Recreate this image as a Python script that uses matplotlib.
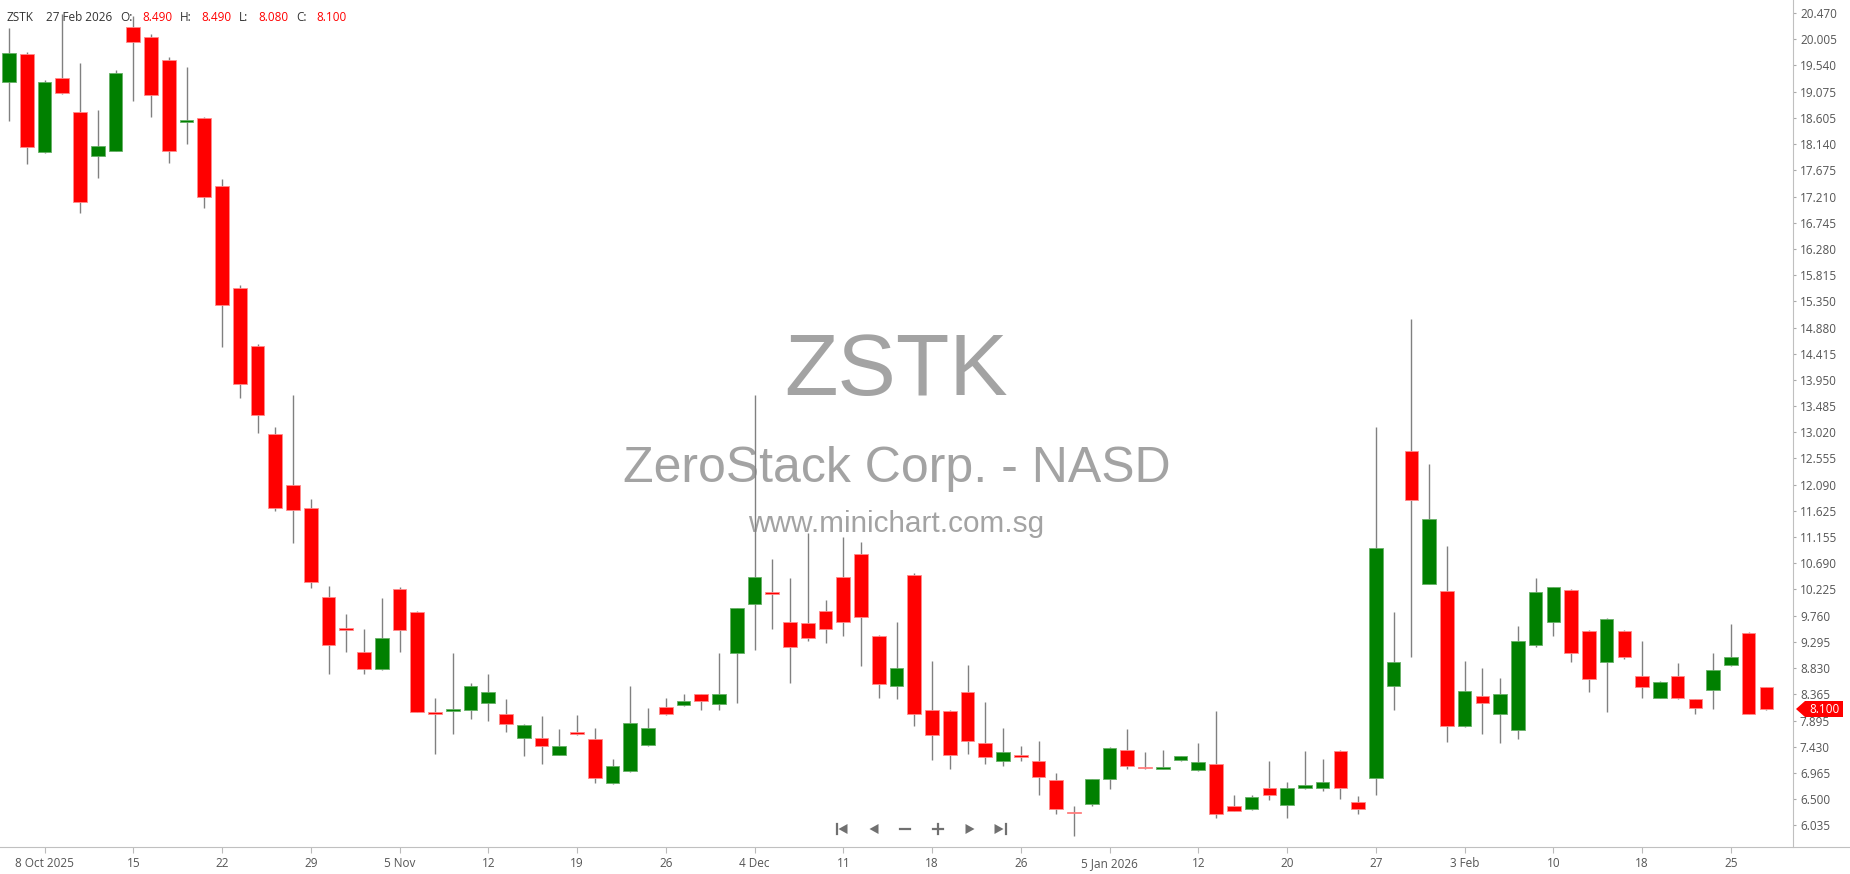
import matplotlib
matplotlib.use("Agg")
import matplotlib.pyplot as plt
import numpy as np
import pandas as pd
from matplotlib.patches import Polygon
from matplotlib.lines import Line2D

plt.rcParams['font.family'] = ['Open Sans', 'DejaVu Sans']

# ---------------- data ----------------
symbol = "ZSTK"
company = "ZeroStack Corp. - NASD"
site = "www.minichart.com.sg"
last_date_label = "27 Feb 2026"

holidays = ['2025-11-27', '2025-12-25', '2026-01-01', '2026-01-19', '2026-02-16']
dates = pd.bdate_range('2025-10-06', '2026-02-27')
dates = dates[~dates.isin(pd.to_datetime(holidays))]

opens = [19.24, 19.75, 18.00, 19.31, 18.72, 17.93, 18.02, 20.23, 20.04, 19.64,
         18.54, 18.61, 17.39, 15.59, 14.55, 12.98, 12.09, 11.67, 10.09, 9.54,
         9.11, 8.81, 10.24, 9.82, 8.04, 8.07, 8.09, 8.21, 8.02, 7.59,
         7.58, 7.29, 7.68, 7.56, 6.78, 6.99, 7.46, 8.13, 8.17, 8.36,
         8.19, 9.09, 9.96, 10.18, 9.64, 9.62, 9.85, 10.44, 10.85, 9.40,
         8.50, 10.49, 8.09, 8.07, 8.40, 7.49, 7.18, 7.27, 7.18, 6.83,
         6.27, 6.42, 6.85, 7.38, 7.07, 7.04, 7.19, 7.01, 7.12, 6.38,
         6.32, 6.69, 6.40, 6.69, 6.69, 7.36, 6.45, 6.87, 8.50, 12.69,
         10.33, 10.20, 7.79, 8.33, 8.01, 7.72, 9.23, 9.64, 10.22, 9.49,
         8.94, 9.49, 8.69, 8.30, 8.69, 8.27, 8.44, 8.88, 9.45, 8.49]
highs = [20.20, 19.77, 19.28, 20.46, 19.59, 18.75, 19.46, 20.42, 20.10, 19.69,
         19.51, 18.63, 17.53, 15.64, 14.58, 13.11, 13.69, 11.83, 10.29, 9.78,
         9.52, 10.07, 10.26, 9.84, 8.29, 9.09, 8.56, 8.72, 8.27, 7.83,
         7.98, 7.74, 8.00, 7.77, 7.21, 8.51, 8.11, 8.29, 8.36, 8.37,
         9.09, 9.90, 13.68, 10.77, 10.42, 11.22, 10.03, 11.15, 11.06, 9.41,
         9.64, 10.51, 8.95, 8.08, 8.89, 8.23, 7.77, 7.45, 7.53, 6.96,
         6.38, 6.86, 7.42, 7.74, 7.33, 7.38, 7.27, 7.49, 8.07, 6.58,
         6.58, 7.18, 6.80, 7.35, 7.21, 7.38, 6.55, 13.11, 9.82, 15.04,
         12.45, 11.00, 8.96, 8.82, 8.65, 9.58, 10.42, 10.27, 10.24, 9.50,
         9.71, 9.50, 9.31, 8.59, 8.91, 8.28, 9.09, 9.61, 9.46, 8.49]
lows = [18.56, 17.78, 17.98, 19.04, 16.91, 17.54, 18.01, 18.91, 18.62, 17.80,
        18.15, 17.00, 14.54, 13.63, 13.00, 11.62, 11.05, 10.25, 8.73, 9.12,
        8.72, 8.80, 9.12, 8.04, 7.30, 7.65, 7.92, 7.89, 7.70, 7.27,
        7.12, 7.28, 7.63, 6.78, 6.77, 6.98, 7.45, 8.00, 8.16, 8.09,
        8.09, 8.21, 9.14, 9.53, 8.56, 9.30, 9.27, 9.40, 8.87, 8.29,
        8.27, 7.79, 7.19, 7.03, 7.30, 7.13, 7.09, 7.18, 6.57, 6.23,
        5.85, 6.38, 6.67, 7.03, 7.03, 7.03, 7.18, 7.00, 6.16, 6.28,
        6.31, 6.48, 6.17, 6.68, 6.65, 6.50, 6.24, 6.58, 8.09, 9.03,
        10.32, 7.52, 7.78, 7.66, 7.49, 7.56, 9.21, 9.39, 8.94, 8.41,
        8.05, 8.99, 8.30, 8.29, 8.28, 8.01, 8.10, 8.87, 8.01, 8.08]
closes = [19.76, 18.09, 19.24, 19.05, 17.11, 18.10, 19.41, 19.95, 19.02, 18.02,
          18.56, 17.20, 15.29, 13.87, 13.32, 11.68, 11.63, 10.36, 9.23, 9.52,
          8.81, 9.37, 9.50, 8.05, 8.02, 8.09, 8.51, 8.40, 7.83, 7.82,
          7.45, 7.44, 7.66, 6.87, 7.09, 7.86, 7.77, 8.01, 8.24, 8.25,
          8.37, 9.89, 10.44, 10.16, 9.21, 9.36, 9.52, 9.65, 9.74, 8.54,
          8.82, 8.01, 7.63, 7.29, 7.54, 7.25, 7.33, 7.25, 6.90, 6.32,
          6.25, 6.85, 7.41, 7.08, 7.05, 7.06, 7.26, 7.15, 6.23, 6.29,
          6.53, 6.57, 6.69, 6.75, 6.80, 6.69, 6.33, 10.96, 8.93, 11.81,
          11.47, 7.79, 8.42, 8.20, 8.36, 9.31, 10.18, 10.26, 9.10, 8.63,
          9.70, 9.02, 8.49, 8.58, 8.29, 8.11, 8.79, 9.02, 8.02, 8.10]

header_values = ["8.490", "8.490", "8.080", "8.100"]

y_tick_labels = ["20.470", "20.005", "19.540", "19.075", "18.605", "18.140", "17.675",
                 "17.210", "16.745", "16.280", "15.815", "15.350", "14.880", "14.415",
                 "13.950", "13.485", "13.020", "12.555", "12.090", "11.625", "11.155",
                 "10.690", "10.225", "9.760", "9.295", "8.830", "8.365", "7.895",
                 "7.430", "6.965", "6.500", "6.035"]
x_tick_dates = ['2025-10-08', '2025-10-15', '2025-10-22', '2025-10-29', '2025-11-05',
                '2025-11-12', '2025-11-19', '2025-11-26', '2025-12-04', '2025-12-11',
                '2025-12-18', '2025-12-26', '2026-01-05', '2026-01-12', '2026-01-20',
                '2026-01-27', '2026-02-03', '2026-02-10', '2026-02-18', '2026-02-25']
x_tick_labels = ["8 Oct 2025", "15", "22", "29", "5 Nov", "12", "19", "26", "4 Dec",
                 "11", "18", "26", "5 Jan 2026", "12", "20", "27", "3 Feb", "10",
                 "18", "25"]

# ---------------- figure ----------------
W, H = 1850, 874
fig = plt.figure(figsize=(W / 100, H / 100), dpi=100)
fig.patch.set_facecolor('white')
ax = fig.add_axes([0, 27 / H, 1793 / W, 847 / H])
ax.set_facecolor('white')

o = np.array(opens); h = np.array(highs); l = np.array(lows); c = np.array(closes)
x = np.arange(len(o))
up = c >= o

ax.vlines(x, l, h, color='#808080', lw=1.0, zorder=2)
minh = 0.035
diff = np.abs(c - o)
bh = np.maximum(diff, minh)
bb = np.minimum(o, c) - (bh - diff) / 2
ax.bar(x[up], bh[up], bottom=bb[up], width=0.77, color='#008000',
       edgecolor='#66b066', linewidth=0.6, zorder=3)
ax.bar(x[~up], bh[~up], bottom=bb[~up], width=0.77, color='#ff0000',
       edgecolor='#ff8a8a', linewidth=0.6, zorder=3)

ax.set_xlim(-0.507, 100.5)
ax.set_ylim(5.647, 20.703)

# watermark
wm = '#a3a3a3'
ax.text(0.5, 0.5336, symbol, transform=ax.transAxes, ha='center', va='baseline',
        fontsize=63, color=wm, family='Liberation Sans', zorder=0)
ax.text(0.5, 0.4309, company, transform=ax.transAxes, ha='center', va='baseline',
        fontsize=36, color=wm, family='Liberation Sans', zorder=0)
ax.text(0.5, 0.3719, site, transform=ax.transAxes, ha='center', va='baseline',
        fontsize=21.4, color=wm, family='Liberation Sans', zorder=0)

# axes styling
for s in ['left', 'top', 'bottom']:
    ax.spines[s].set_visible(False)
ax.spines['right'].set_color('#c0c0c0')
ax.spines['right'].set_linewidth(0.8)

ax.yaxis.tick_right()
ax.set_yticks([float(v) for v in y_tick_labels])
ax.set_yticklabels(y_tick_labels)
ax.tick_params(axis='y', direction='out', length=2.5, width=0.8, color='#aaaaaa',
               pad=2.5, labelsize=8.5, labelcolor='#555555')

idx_map = {d: i for i, d in enumerate(dates)}
xt = [idx_map[pd.Timestamp(d)] for d in x_tick_dates]
ax.set_xticks(xt)
ax.set_xticklabels(x_tick_labels)
ax.tick_params(axis='x', direction='out', length=4, width=0.8, color='#bbbbbb',
               pad=3.5, labelsize=8.5, labelcolor='#555555')

fig.add_artist(Line2D([0, 1], [27 / H, 27 / H], transform=fig.transFigure,
                      color='#c0c0c0', lw=0.8))

# overlay in pixel coordinates (top-left origin)
ov = fig.add_axes([0, 0, 1, 1], zorder=5)
ov.set_xlim(0, W)
ov.set_ylim(H, 0)
ov.axis('off')
ov.patch.set_alpha(0)

hy = 17.5
dark = '#333333'
red = '#ff0000'
hs = 8.5
ov.text(6.7, hy, symbol, va='center', ha='left', fontsize=hs, color=dark)
ov.text(45.7, hy, last_date_label, va='center', ha='left', fontsize=hs, color=dark)
for lab, xl, val, xv in [("O:", 120, header_values[0], 142),
                         ("H:", 180, header_values[1], 201),
                         ("L:", 239, header_values[2], 258),
                         ("C:", 296, header_values[3], 316)]:
    ov.text(xl, hy, lab, va='center', ha='left', fontsize=hs, color=dark)
    ov.text(xv, hy, val, va='center', ha='left', fontsize=hs, color=red)

# navigation icons
ic = '#707070'
ny = 829
def tri(cx, direction):
    if direction == 'left':
        pts = [(cx - 4.5, ny), (cx + 4.5, ny - 5), (cx + 4.5, ny + 5)]
    else:
        pts = [(cx + 4.5, ny), (cx - 4.5, ny - 5), (cx - 4.5, ny + 5)]
    ov.add_patch(Polygon(pts, closed=True, color=ic, lw=0))
ov.plot([836.5, 836.5], [ny - 5, ny + 5], color=ic, lw=1.6)
tri(843, 'left')
tri(874, 'left')
ov.plot([900, 910], [ny, ny], color=ic, lw=1.6)
ov.plot([933, 943], [ny, ny], color=ic, lw=1.6)
ov.plot([938, 938], [ny - 5, ny + 5], color=ic, lw=1.6)
tri(970, 'right')
tri(999, 'right')
ov.plot([1005.5, 1005.5], [ny - 5, ny + 5], color=ic, lw=1.6)

# last price tag
disp = ax.transData.transform((x[-1], c[-1]))
ty = H - disp[1]
tag = [(1796, ty), (1805, ty - 8), (1843, ty - 8), (1843, ty + 8), (1805, ty + 8)]
ov.add_patch(Polygon(tag, closed=True, color='#ff0000', lw=0, zorder=6))
ov.text(1824.5, ty, f"{c[-1]:.3f}", va='center', ha='center', fontsize=8.5,
        color='white', zorder=7)

fig.savefig('out.png', dpi=100)
